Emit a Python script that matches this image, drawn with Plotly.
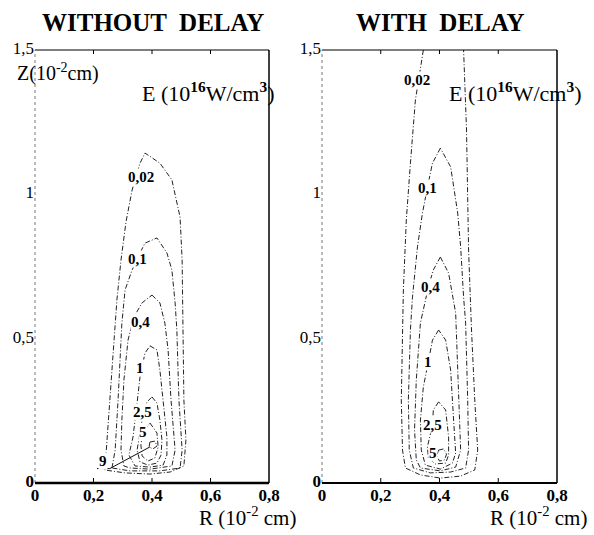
import plotly.graph_objects as go

# ---------------- data (R, Z in 10^-2 cm) ----------------
# Left panel: WITHOUT DELAY
L002_R = [0.239, 0.246, 0.256, 0.267, 0.280, 0.294, 0.311, 0.332, 0.359, 0.376, 0.427, 0.468, 0.496, 0.503, 0.506, 0.509, 0.516, 0.509, 0.462, 0.393, 0.308, 0.239]
L002_Z = [0.045, 0.149, 0.288, 0.461, 0.634, 0.772, 0.904, 1.015, 1.108, 1.143, 1.108, 1.050, 0.921, 0.772, 0.565, 0.288, 0.149, 0.059, 0.038, 0.031, 0.035, 0.045]
L01_R = [0.263, 0.274, 0.284, 0.294, 0.297, 0.308, 0.332, 0.359, 0.376, 0.417, 0.451, 0.468, 0.479, 0.485, 0.492, 0.503, 0.496, 0.427, 0.325, 0.263]
L01_Z = [0.052, 0.114, 0.288, 0.461, 0.554, 0.669, 0.738, 0.797, 0.831, 0.849, 0.797, 0.738, 0.624, 0.530, 0.288, 0.114, 0.052, 0.042, 0.042, 0.052]
L04_R = [0.400, 0.427, 0.444, 0.455, 0.465, 0.479, 0.468, 0.393, 0.325, 0.304, 0.294, 0.297, 0.304, 0.318, 0.338, 0.366, 0.400]
L04_Z = [0.651, 0.624, 0.554, 0.461, 0.288, 0.114, 0.059, 0.048, 0.052, 0.059, 0.114, 0.218, 0.357, 0.495, 0.575, 0.624, 0.651]
L1_R = [0.393, 0.417, 0.427, 0.438, 0.451, 0.451, 0.438, 0.393, 0.342, 0.321, 0.335, 0.349, 0.359, 0.376, 0.393]
L1_Z = [0.475, 0.461, 0.391, 0.277, 0.159, 0.097, 0.062, 0.055, 0.059, 0.097, 0.159, 0.277, 0.367, 0.450, 0.475]
L25_R = [0.400, 0.417, 0.427, 0.434, 0.431, 0.417, 0.386, 0.359, 0.349, 0.359, 0.369, 0.383, 0.400]
L25_Z = [0.298, 0.277, 0.218, 0.149, 0.097, 0.069, 0.062, 0.073, 0.114, 0.184, 0.236, 0.281, 0.298]
L5_R = [0.393, 0.417, 0.421, 0.410, 0.386, 0.366, 0.362, 0.369, 0.393]
L5_Z = [0.208, 0.173, 0.125, 0.087, 0.076, 0.094, 0.132, 0.177, 0.208]
L9_R = [0.393, 0.410, 0.417, 0.403, 0.390, 0.393]
L9_Z = [0.142, 0.145, 0.128, 0.118, 0.125, 0.142]
L9_LEADER_R = [0.212, 0.256, 0.393]
L9_LEADER_Z = [0.050, 0.050, 0.125]

# Right panel: WITH DELAY
R002_R = [0.345, 0.318, 0.301, 0.287, 0.277, 0.274, 0.270, 0.274, 0.284, 0.335, 0.403, 0.472, 0.520, 0.530, 0.520, 0.509, 0.499, 0.492, 0.482]
R002_Z = [1.500, 1.327, 1.108, 0.911, 0.669, 0.530, 0.288, 0.114, 0.052, 0.028, 0.017, 0.024, 0.045, 0.114, 0.288, 0.530, 0.807, 1.223, 1.500]
R01_R = [0.403, 0.376, 0.359, 0.342, 0.325, 0.308, 0.301, 0.294, 0.297, 0.311, 0.369, 0.438, 0.489, 0.499, 0.496, 0.489, 0.482, 0.472, 0.462, 0.438, 0.403]
R01_Z = [1.160, 1.108, 1.025, 0.935, 0.818, 0.644, 0.530, 0.288, 0.114, 0.052, 0.035, 0.038, 0.052, 0.114, 0.288, 0.554, 0.644, 0.818, 0.935, 1.095, 1.160]
R04_R = [0.403, 0.379, 0.362, 0.335, 0.321, 0.315, 0.321, 0.335, 0.403, 0.455, 0.472, 0.465, 0.455, 0.431, 0.403]
R04_Z = [0.783, 0.738, 0.679, 0.554, 0.357, 0.184, 0.080, 0.052, 0.042, 0.055, 0.114, 0.288, 0.589, 0.727, 0.783]
R1_R = [0.397, 0.376, 0.362, 0.345, 0.335, 0.338, 0.352, 0.403, 0.444, 0.455, 0.448, 0.438, 0.421, 0.397]
R1_Z = [0.530, 0.495, 0.419, 0.333, 0.218, 0.114, 0.062, 0.048, 0.069, 0.104, 0.218, 0.391, 0.495, 0.530]
R25_R = [0.397, 0.379, 0.376, 0.359, 0.362, 0.386, 0.421, 0.431, 0.431, 0.421, 0.397]
R25_Z = [0.281, 0.253, 0.201, 0.125, 0.087, 0.066, 0.069, 0.097, 0.159, 0.253, 0.281]
R5_R = [0.397, 0.414, 0.424, 0.417, 0.400, 0.390, 0.397]
R5_Z = [0.114, 0.118, 0.100, 0.080, 0.076, 0.094, 0.114]

# contour labels: text, R, Z
L_LABELS = ["0,02", "0,1", "0,4", "1", "2,5", "5", "9"]
L_LABEL_R = [0.362, 0.352, 0.359, 0.359, 0.366, 0.369, 0.232]
L_LABEL_Z = [1.060, 0.776, 0.558, 0.398, 0.246, 0.177, 0.075]
R_LABELS = ["0,02", "0,1", "0,4", "1", "2,5", "5"]
R_LABEL_R = [0.325, 0.359, 0.369, 0.362, 0.376, 0.379]
R_LABEL_Z = [1.396, 1.022, 0.679, 0.419, 0.201, 0.104]

X_TICKS = [0, 0.2, 0.4, 0.6, 0.8]
X_TICKTEXT = ["<b>0</b>", "<b>0,2</b>", "<b>0,4</b>", "<b>0,6</b>", "<b>0,8</b>"]
Y_TICKS = [0, 0.5, 1, 1.5]
Y_TICKTEXT = ["<b>0</b>", "0,5", "1", "1,5"]

# ---------------- figure ----------------
W, H = 594, 535
SERIF = "Liberation Serif, Times New Roman, serif"
XD1 = [35 / W, 269 / W]
XD2 = [322 / W, 557 / W]
YD = [1 - 483 / H, 1 - 50 / H]

fig = go.Figure()
DASH = "5px,2px,1px,2px"

left_sets = [(L002_R, L002_Z), (L01_R, L01_Z), (L04_R, L04_Z), (L1_R, L1_Z),
             (L25_R, L25_Z), (L5_R, L5_Z), (L9_R, L9_Z)]
right_sets = [(R002_R, R002_Z), (R01_R, R01_Z), (R04_R, R04_Z), (R1_R, R1_Z),
              (R25_R, R25_Z), (R5_R, R5_Z)]
for r, z in left_sets:
    fig.add_trace(go.Scatter(x=r, y=z, mode="lines", xaxis="x", yaxis="y",
                             line=dict(color="#222", width=1, dash=DASH),
                             showlegend=False, hoverinfo="skip"))
for r, z in right_sets:
    fig.add_trace(go.Scatter(x=r, y=z, mode="lines", xaxis="x2", yaxis="y2",
                             line=dict(color="#222", width=1, dash=DASH),
                             showlegend=False, hoverinfo="skip"))
fig.add_trace(go.Scatter(x=L9_LEADER_R, y=L9_LEADER_Z, mode="lines", xaxis="x", yaxis="y",
                         line=dict(color="#111", width=1), showlegend=False, hoverinfo="skip"))

ann = []
for t, r, z in zip(L_LABELS, L_LABEL_R, L_LABEL_Z):
    ann.append(dict(x=r, y=z, xref="x", yref="y", text="<b>%s</b>" % t, showarrow=False,
                    font=dict(family=SERIF, size=15, color="black"),
                    bgcolor="white", borderpad=0))
for t, r, z in zip(R_LABELS, R_LABEL_R, R_LABEL_Z):
    ann.append(dict(x=r, y=z, xref="x2", yref="y2", text="<b>%s</b>" % t, showarrow=False,
                    font=dict(family=SERIF, size=15, color="black"),
                    bgcolor="white", borderpad=0))

# titles and axis captions
ann += [
    dict(x=153 / W, y=1 - 22 / H, xref="paper", yref="paper", text="<b>WITHOUT  DELAY</b>",
         showarrow=False, font=dict(family=SERIF, size=25, color="black"), xanchor="center", yanchor="middle"),
    dict(x=440 / W, y=1 - 22 / H, xref="paper", yref="paper", text="<b>WITH  DELAY</b>",
         showarrow=False, font=dict(family=SERIF, size=25, color="black"), xanchor="center", yanchor="middle"),
    dict(x=15 / W, y=1 - 72 / H, xref="paper", yref="paper", text="Z(10<sup>-2</sup>cm)",
         showarrow=False, font=dict(family=SERIF, size=20, color="black"), xanchor="left", yanchor="middle"),
    dict(x=140 / W, y=1 - 92 / H, xref="paper", yref="paper", text="E (10<sup><b>16</b></sup>W/cm<sup><b>3</b></sup>)",
         showarrow=False, font=dict(family=SERIF, size=22, color="black"), xanchor="left", yanchor="middle"),
    dict(x=447 / W, y=1 - 92 / H, xref="paper", yref="paper", text="E (10<sup><b>16</b></sup>W/cm<sup><b>3</b></sup>)",
         showarrow=False, font=dict(family=SERIF, size=22, color="black"), xanchor="left", yanchor="middle"),
    dict(x=298 / W, y=1 - 516 / H, xref="paper", yref="paper", text="R (10<sup>-2</sup> cm)",
         showarrow=False, font=dict(family=SERIF, size=21, color="black"), xanchor="right", yanchor="middle"),
    dict(x=589 / W, y=1 - 516 / H, xref="paper", yref="paper", text="R (10<sup>-2</sup> cm)",
         showarrow=False, font=dict(family=SERIF, size=21, color="black"), xanchor="right", yanchor="middle"),
]

# frame lines (paper coords from the domains)
shapes = []
for xd, bw in ((XD1, 2.5), (XD2, 2)):
    x0, x1 = xd
    y0, y1 = YD
    shapes.append(dict(type="line", xref="paper", yref="paper", x0=x0, x1=x1, y0=y1, y1=y1,
                       line=dict(color="black", width=1.2)))
    shapes.append(dict(type="line", xref="paper", yref="paper", x0=x1, x1=x1, y0=y0, y1=y1,
                       line=dict(color="black", width=1.5)))
    shapes.append(dict(type="line", xref="paper", yref="paper", x0=x0, x1=x0, y0=y0, y1=y1,
                       line=dict(color="#777", width=1, dash="dot")))
    shapes.append(dict(type="line", xref="paper", yref="paper", x0=x0, x1=x1, y0=y0, y1=y0,
                       line=dict(color="black", width=bw)))
    for v in X_TICKS[1:-1]:
        xp = x0 + (v - X_TICKS[0]) / (X_TICKS[-1] - X_TICKS[0]) * (x1 - x0)
        shapes.append(dict(type="line", xref="paper", yref="paper", x0=xp, x1=xp,
                           y0=y1, y1=y1 - 4 / H, line=dict(color="black", width=1)))
        shapes.append(dict(type="line", xref="paper", yref="paper", x0=xp, x1=xp,
                           y0=y0, y1=y0 + 5 / H, line=dict(color="black", width=1)))

xaxis_common = dict(range=[0, 0.8], showgrid=False, zeroline=False, showline=False,
                    tickvals=X_TICKS, ticktext=X_TICKTEXT, ticks="", automargin=False,
                    tickfont=dict(family=SERIF, size=17, color="black"), fixedrange=True)
yaxis_common = dict(range=[0, 1.5], showgrid=False, zeroline=False, showline=False,
                    tickvals=Y_TICKS, ticktext=Y_TICKTEXT, ticks="", automargin=False,
                    ticklabelshift=-2,
                    tickfont=dict(family=SERIF, size=17, color="black"), fixedrange=True)

fig.update_layout(
    width=W, height=H, autosize=False,
    margin=dict(l=0, r=0, t=0, b=0, pad=0, autoexpand=False),
    paper_bgcolor="white", plot_bgcolor="white",
    xaxis=dict(domain=XD1, anchor="y", **xaxis_common),
    yaxis=dict(domain=YD, anchor="x", **yaxis_common),
    xaxis2=dict(domain=XD2, anchor="y2", **xaxis_common),
    yaxis2=dict(domain=YD, anchor="x2", **yaxis_common),
    annotations=ann,
    shapes=shapes,
    showlegend=False,
)

fig.write_html("out.html",
               config={"displayModeBar": False},
               post_script="document.body.style.margin='0px';document.body.style.overflow='hidden';")
